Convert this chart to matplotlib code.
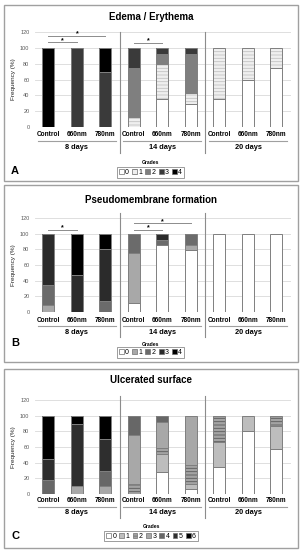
import matplotlib
matplotlib.use('Agg')
import matplotlib.pyplot as plt
from matplotlib.patches import Rectangle, Patch
from matplotlib.lines import Line2D
import matplotlib.transforms as mtransforms

plt.rcParams['font.family'] = ['Liberation Sans', 'DejaVu Sans']
plt.rcParams['hatch.linewidth'] = 0.6

W, H = 303, 550

groups = ['8 days', '14 days', '20 days']
treatments = ['Control', '660nm', '780nm']
yticks = [0, 20, 40, 60, 80, 100, 120]

# ---- Panel A: Edema / Erythema (grades 0-4), 9 bars: 8d C/660/780, 14d, 20d
edema_g0 = [0, 0, 0, 0, 36, 29, 36, 60, 74]
edema_g1 = [0, 0, 0, 13, 43, 14, 64, 40, 26]
edema_g2 = [0, 0, 0, 62, 13, 49, 0, 0, 0]
edema_g3 = [0, 100, 70, 25, 8, 8, 0, 0, 0]
edema_g4 = [100, 0, 30, 0, 0, 0, 0, 0, 0]
edema_sig = [(0, 1, 107), (0, 2, 115), (3, 4, 106)]

# ---- Panel B: Pseudomembrane formation (grades 0-4)
pseudo_g0 = [0, 0, 0, 12, 86, 79, 100, 100, 100]
pseudo_g1 = [9, 0, 0, 63, 0, 7, 0, 0, 0]
pseudo_g2 = [26, 0, 14, 25, 6, 14, 0, 0, 0]
pseudo_g3 = [65, 47, 66, 0, 8, 0, 0, 0, 0]
pseudo_g4 = [0, 53, 20, 0, 0, 0, 0, 0, 0]
pseudo_sig = [(0, 1, 105), (3, 4, 105), (3, 5, 113)]

# ---- Panel C: Ulcerated surface (grades 0-6)
ulcer_g0 = [0, 0, 0, 0, 28, 7, 34, 80, 58]
ulcer_g1 = [0, 0, 0, 0, 23, 6, 33, 20, 29]
ulcer_g2 = [0, 0, 0, 13, 8, 24, 33, 0, 13]
ulcer_g3 = [0, 10, 10, 62, 33, 63, 0, 0, 0]
ulcer_g4 = [18, 0, 20, 25, 8, 0, 0, 0, 0]
ulcer_g5 = [27, 79, 40, 0, 0, 0, 0, 0, 0]
ulcer_g6 = [55, 11, 30, 0, 0, 0, 0, 0, 0]
ulcer_sig = []

panels = [
    dict(title='Edema / Erythema', letter='A',
         series=[edema_g0, edema_g1, edema_g2, edema_g3, edema_g4], sig=edema_sig,
         colors=['#ffffff', '#efefef', '#7f7f7f', '#3a3a3a', '#000000'],
         hatches=[None, '-----', None, None, None],
         hcols=[None, '#c2c2c2', None, None, None],
         frame=(4, 5, 298, 181), y0=127, y120=32, title_y=17, letter_y=171,
         grades_y=163, leg_y=172.5, leg_x=150.5, tick_off=8, line_off=14, group_off=20,
         sep_top=32, sep_bot=153),
    dict(title='Pseudomembrane formation', letter='B',
         series=[pseudo_g0, pseudo_g1, pseudo_g2, pseudo_g3, pseudo_g4], sig=pseudo_sig,
         colors=['#ffffff', '#a8a8a8', '#6b6b6b', '#2b2b2b', '#000000'],
         hatches=[None, None, None, None, None],
         hcols=[None, None, None, None, None],
         frame=(4, 185, 298, 362), y0=312, y120=218, title_y=200, letter_y=343,
         grades_y=345, leg_y=352.5, leg_x=150.5, tick_off=8, line_off=14, group_off=21,
         sep_top=213, sep_bot=337),
    dict(title='Ulcerated surface', letter='C',
         series=[ulcer_g0, ulcer_g1, ulcer_g2, ulcer_g3, ulcer_g4, ulcer_g5, ulcer_g6],
         sig=ulcer_sig,
         colors=['#ffffff', '#bdbdbd', '#a3a3a3', '#a8a8a8', '#676767', '#2e2e2e', '#000000'],
         hatches=[None, None, '-----', None, None, None, None],
         hcols=[None, None, '#5a5a5a', None, None, None, None],
         frame=(4, 369, 298, 548), y0=494, y120=400, title_y=380, letter_y=536,
         grades_y=526, leg_y=536, leg_x=151, tick_off=6, line_off=13, group_off=19,
         sep_top=396, sep_bot=518),
]


def fx(px):
    return px / W


def fy(py):
    return 1 - py / H


fig = plt.figure(figsize=(W / 100, H / 100), dpi=100)

AX_L, AX_R = 35, 291

for p in panels:
    l, t, r, b = p['frame']
    fig.add_artist(Rectangle((fx(l), fy(b)), fx(r) - fx(l), fy(t) - fy(b),
                             transform=fig.transFigure, fill=False,
                             edgecolor='#a0a0a0', lw=1.0))
    ax = fig.add_axes([fx(AX_L), fy(p['y0']), fx(AX_R) - fx(AX_L), (p['y0'] - p['y120']) / H])
    ax.set_xlim(-0.47, 8.51)
    ax.set_ylim(0, 120)
    ax.set_yticks(yticks)
    ax.set_yticklabels([str(v) for v in yticks], fontsize=4, color='#595959')
    ax.tick_params(axis='y', length=0, pad=4)
    ax.set_xticks([])
    for s in ax.spines.values():
        s.set_visible(False)
    ax.grid(axis='y', color='#d9d9d9', lw=0.6, zorder=0)
    ax.set_axisbelow(True)
    ax.patch.set_alpha(0)
    ax.set_ylabel('Frequency (%)', fontsize=4.6, labelpad=3, color='#222222')

    x = list(range(9))
    bottom = [0] * 9
    for g, vals in enumerate(p['series']):
        xs = [xi for xi, v in zip(x, vals) if v > 0]
        hs = [v for v in vals if v > 0]
        bs = [bo for bo, v in zip(bottom, vals) if v > 0]
        if xs:
            hatch = p['hatches'][g]
            ax.bar(xs, hs, width=0.42, bottom=bs, color=p['colors'][g],
                   edgecolor=p['hcols'][g] if hatch else p['colors'][g],
                   hatch=hatch, linewidth=0, zorder=2)
            ax.bar(xs, hs, width=0.42, bottom=bs, fill=False,
                   edgecolor='#7f7f7f', linewidth=0.7, zorder=3)
        bottom = [bo + v for bo, v in zip(bottom, vals)]

    bt = mtransforms.blended_transform_factory(ax.transData, fig.transFigure)
    # separators
    for sx in (2.5, 5.5):
        fig.add_artist(Line2D([sx, sx], [fy(p['sep_top']), fy(p['sep_bot'])],
                              transform=bt, color='#8c8c8c', lw=0.8))
    # tick labels, underline, group labels
    for gi, gname in enumerate(groups):
        for ti, tname in enumerate(treatments):
            ax.text(gi * 3 + ti, fy(p['y0'] + p['tick_off']), tname, transform=bt,
                    ha='center', va='center', fontsize=4.7, fontweight='bold')
        fig.add_artist(Line2D([gi * 3 - 0.37, gi * 3 + 2.37],
                              [fy(p['y0'] + p['line_off'])] * 2,
                              transform=bt, color='#a0a0a0', lw=0.8))
        ax.text(gi * 3 + 1, fy(p['y0'] + p['group_off']), gname, transform=bt,
                ha='center', va='center', fontsize=5.3, fontweight='bold')
    # significance
    for a, bb, lev in p['sig']:
        ax.plot([a, bb], [lev, lev], color='#8c8c8c', lw=0.7, clip_on=False, zorder=4)
        ax.text((a + bb) / 2, lev + 0.5, '*', ha='center', va='baseline',
                fontsize=5, fontweight='bold', clip_on=False)

    fig.text(0.5 * (fx(l) + fx(r)), fy(p['title_y']), p['title'], ha='center',
             va='center', fontsize=7, fontweight='bold')
    fig.text(fx(15), fy(p['letter_y']), p['letter'], ha='center', va='center',
             fontsize=8, fontweight='bold')
    fig.text(fx(p['leg_x']), fy(p['grades_y']), 'Grades', ha='center', va='center',
             fontsize=3.6, fontweight='bold')
    handles = []
    for g in range(len(p['series'])):
        handles.append(Patch(facecolor=p['colors'][g], edgecolor='#707070',
                             hatch=('---' if p['hatches'][g] else None), lw=0.5))
    leg = fig.legend(handles, [str(g) for g in range(len(p['series']))],
                     loc='center', bbox_to_anchor=(fx(p['leg_x']), fy(p['leg_y'])),
                     ncol=len(p['series']), fontsize=5, handlelength=0.7,
                     handleheight=0.7, handletextpad=0.2, columnspacing=0.45,
                     borderpad=0.25, frameon=True, fancybox=False, borderaxespad=0)
    leg.get_frame().set_edgecolor('#707070')
    leg.get_frame().set_linewidth(0.6)

fig.savefig('out.png', dpi=100)
